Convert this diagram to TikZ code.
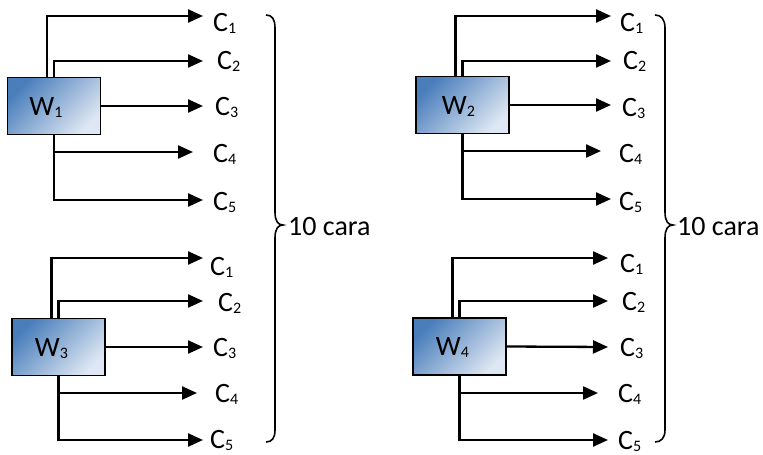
\documentclass[tikz,border=0pt]{standalone}
\usepackage{fontspec}
\setmainfont{Carlito}
\usetikzlibrary{arrows.meta}
\newcommand\sbs[1]{\raisebox{-2pt}{\fontsize{16pt}{16pt}\selectfont #1}}
\definecolor{wdark}{RGB}{74,126,187}
\definecolor{wlight}{RGB}{222,231,243}
\tikzset{
 fnt/.style={font=\fontsize{28pt}{30pt}\selectfont},
 lab/.style={fnt, inner sep=0pt, text height=18pt, text depth=0pt, anchor=west},
 wtext/.style={fnt, inner sep=0pt, text height=18pt, text depth=0pt},
 wbox/.style={draw, line width=1.5pt, minimum width=93pt, minimum height=57pt, inner sep=0pt,
   top color=wdark, bottom color=wlight, shading angle=45},
 conn/.style={line width=2.3pt, -{Triangle[length=15pt,width=13pt]}},
 brace/.style={line width=1.6pt},
}
\begin{document}
\begin{tikzpicture}[x=1pt,y=-1pt]
\useasboundingbox (0,0) rectangle (763,455);
% boxes
\node[wbox] (w1) at (54,106) {};
\node[wbox] (w2) at (462.5,105) {};
\node[wbox] (w3) at (58.5,347) {};
\node[wbox] (w4) at (459.5,346.5) {};
\node[wtext] (t1) at ([xshift=-8pt]w1.center) {W\sbs{1}};
\node[wtext] (t2) at ([xshift=-4pt]w2.center) {W\sbs{2}};
\node[wtext] (t3) at ([xshift=-7pt]w3.center) {W\sbs{3}};
\node[wtext] (t4) at ([xshift=-7pt]w4.center) {W\sbs{4}};
% labels group 1
\node[lab] (c11) at (213,22) {C\sbs{1}};
\node[lab] (c12) at (217,60) {C\sbs{2}};
\node[lab] (c13) at (215,106) {C\sbs{3}};
\node[lab] (c14) at (213,153) {C\sbs{4}};
\node[lab] (c15) at (213,201) {C\sbs{5}};
% labels group 2
\node[lab] (c21) at (620,22) {C\sbs{1}};
\node[lab] (c22) at (623,60) {C\sbs{2}};
\node[lab] (c23) at (622,107) {C\sbs{3}};
\node[lab] (c24) at (619,153) {C\sbs{4}};
\node[lab] (c25) at (619,201) {C\sbs{5}};
% labels group 3
\node[lab] (c31) at (210,266) {C\sbs{1}};
\node[lab] (c32) at (218,302) {C\sbs{2}};
\node[lab] (c33) at (213,347) {C\sbs{3}};
\node[lab] (c34) at (215,393) {C\sbs{4}};
\node[lab] (c35) at (210,439) {C\sbs{5}};
% labels group 4
\node[lab] (c41) at (620,263) {C\sbs{1}};
\node[lab] (c42) at (622,301) {C\sbs{2}};
\node[lab] (c43) at (620,347) {C\sbs{3}};
\node[lab] (c44) at (618,393) {C\sbs{4}};
\node[lab] (c45) at (618,440) {C\sbs{5}};
% connectors group 1
\draw[conn] ([xshift=-7pt]w1.north) |- ([xshift=-10pt,yshift=6pt]c11.west);
\draw[conn] (w1.north) |- ([xshift=-14pt,yshift=-1pt]c12.west);
\draw[conn] (w1.east) -- ([xshift=-12pt]c13.west);
\draw[conn] (w1.south) |- ([xshift=-20pt,yshift=1pt]c14.west);
\draw[conn] (w1.south) |- ([xshift=-10pt,yshift=1pt]c15.west);
% connectors group 2
\draw[conn] ([xshift=-7pt]w2.north) |- ([xshift=-9pt,yshift=6pt]c21.west);
\draw[conn] (w2.north) |- ([xshift=-12pt,yshift=-1pt]c22.west);
\draw[conn] (w2.east) -- ([xshift=-11pt,yshift=2pt]c23.west);
\draw[conn] (w2.south) |- ([xshift=-18pt,yshift=2pt]c24.west);
\draw[conn] (w2.south) |- ([xshift=-8pt,yshift=2pt]c25.west);
% connectors group 3
\draw[conn] ([xshift=-7pt]w3.north) |- ([xshift=-7pt,yshift=8pt]c31.west);
\draw[conn] (w3.north) |- ([xshift=-15pt,yshift=1pt]c32.west);
\draw[conn] (w3.east) -- ([xshift=-10pt]c33.west);
\draw[conn] (w3.south) |- ([xshift=-18pt]c34.west);
\draw[conn] (w3.south) |- ([xshift=-7pt,yshift=-1pt]c35.west);
% connectors group 4
\draw[conn] ([xshift=-7pt]w4.north) |- ([xshift=-12pt,yshift=5pt]c41.west);
\draw[conn] (w4.north) |- ([xshift=-14pt]c42.west);
\draw[conn] (w4.east) -- ([xshift=-12pt]c43.west);
\draw[conn] (w4.south) |- ([xshift=-20pt]c44.west);
\draw[conn] (w4.south) |- ([xshift=-10pt]c45.west);
% braces
\draw[brace] (266,15) .. controls (272,15) and (275,19) .. (275,28) -- (275,212)
  .. controls (275,221) and (278,225) .. (283,225)
  .. controls (278,225) and (275,229) .. (275,238) -- (275,430)
  .. controls (275,438) and (272,442) .. (266,442);
\draw[brace] (655,15) .. controls (661,15) and (665,19) .. (665,28) -- (665,212)
  .. controls (665,221) and (668,225) .. (673,225)
  .. controls (668,225) and (665,229) .. (665,238) -- (665,430)
  .. controls (665,438) and (661,442) .. (655,442);
\node[lab] (ta) at (288,226) {10 cara};
\node[lab] (tb) at (677,226) {10 cara};
\end{tikzpicture}
\end{document}
